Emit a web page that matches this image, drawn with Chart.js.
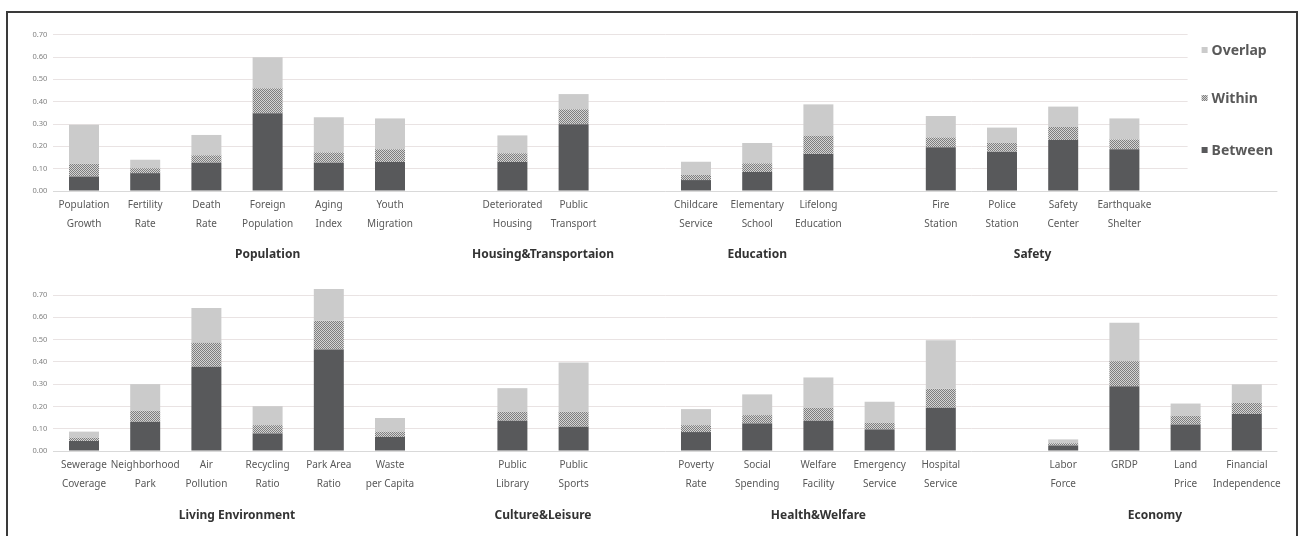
<!DOCTYPE html>
<html><head><meta charset="utf-8">
<script src="https://cdn.jsdelivr.net/npm/chart.js@4/dist/chart.umd.min.js"></script>
<style>
html,body{margin:0;padding:0;background:#fff;}
#wrap{position:relative;width:1300px;height:536px;overflow:hidden;background:#fff;}
#frame{position:absolute;left:6px;top:11px;width:1292px;height:560px;border:2px solid #3a3a3a;box-sizing:border-box;}
#c1{position:absolute;left:0;top:0;}
#c2{position:absolute;left:0;top:270px;}
</style></head><body>
<div id="wrap">
<div id="frame"></div>
<canvas id="c1" width="1300" height="270"></canvas>
<canvas id="c2" width="1300" height="266"></canvas>
</div>
<script>
// ---------- DATA ----------
const topLabels = [
  ['Population','Growth'],['Fertility','Rate'],['Death','Rate'],['Foreign','Population'],['Aging','Index'],['Youth','Migration'],
  '',
  ['Deteriorated','Housing'],['Public','Transport'],
  '',
  ['Childcare','Service'],['Elementary','School'],['Lifelong','Education'],
  '',
  ['Fire','Station'],['Police','Station'],['Safety','Center'],['Earthquake','Shelter'],
  '',''
];
const topBetween = [0.065,0.080,0.127,0.348,0.127,0.130, null, 0.130,0.299, null, 0.049,0.085,0.166, null, 0.196,0.176,0.228,0.187, null,null];
const topWithin  = [0.057,0.022,0.033,0.112,0.046,0.057, null, 0.039,0.067, null, 0.023,0.039,0.082, null, 0.044,0.040,0.059,0.044, null,null];
const topOverlap = [0.175,0.038,0.091,0.139,0.157,0.138, null, 0.080,0.068, null, 0.059,0.091,0.140, null, 0.096,0.068,0.091,0.094, null,null];
const topGroups = ['Population','Housing&Transportaion','Education','Safety'];
const topGroupSpans = [[0,6],[7,8],[10,12],[14,17]];

const bottomLabels = [
  ['Sewerage','Coverage'],['Neighborhood','Park'],['Air','Pollution'],['Recycling','Ratio'],['Park Area','Ratio'],['Waste','per Capita'],
  '',
  ['Public','Library'],['Public','Sports'],
  '',
  ['Poverty','Rate'],['Social','Spending'],['Welfare','Facility'],['Emergency','Service'],['Hospital','Service'],
  '',
  ['Labor','Force'],'GRDP',['Land','Price'],['Financial','Independence']
];
const bottomBetween = [0.045,0.131,0.378,0.079,0.455,0.063, null, 0.136,0.109, null, 0.085,0.124,0.136,0.097,0.194, null, 0.025,0.291,0.119,0.166];
const bottomWithin  = [0.015,0.050,0.107,0.037,0.129,0.024, null, 0.040,0.067, null, 0.031,0.037,0.058,0.030,0.085, null, 0.010,0.112,0.039,0.050];
const bottomOverlap = [0.027,0.119,0.157,0.085,0.143,0.061, null, 0.106,0.221, null, 0.072,0.093,0.136,0.094,0.218, null, 0.017,0.172,0.055,0.083];
const bottomGroups = ['Living Environment','Culture&Leisure','Health&Welfare','Economy'];
const bottomGroupSpans = [[0,5],[7,8],[10,14],[16,19]];

const seriesNames = ['Between','Within','Overlap'];
const yTicks = [0,0.1,0.2,0.3,0.4,0.5,0.6,0.7];

// ---------- STYLE ----------
const FONT = '"Noto Sans", "Open Sans", sans-serif';
const cBetween = '#58595b';
const cOverlap = '#cbcbcb';
function makePattern(){
  const c=document.createElement('canvas'); c.width=4; c.height=4;
  const g=c.getContext('2d');
  g.fillStyle='#d4d4d4'; g.fillRect(0,0,4,4);
  g.fillStyle='#7e7e7e';
  for(let y=0;y<4;y++)for(let x=0;x<4;x++) if((x+y)%2===0) g.fillRect(x,y,1,1);
  return g.createPattern(c,'repeat');
}
const cWithin = makePattern();

const groupPlugin = {
  id:'groupLabels',
  afterDraw(chart, args, opts){
    const ctx=chart.ctx, xs=chart.scales.x;
    ctx.save();
    ctx.font='bold 12px '+FONT;
    ctx.fillStyle='#333333';
    ctx.textAlign='center'; ctx.textBaseline='middle';
    opts.groups.forEach((g,i)=>{
      const s=opts.spans[i];
      const x=(xs.getPixelForValue(s[0])+xs.getPixelForValue(s[1]))/2;
      ctx.fillText(g,x,opts.y);
    });
    ctx.restore();
  }
};

const legendPlugin = {
  id:'boxLegend',
  beforeDatasetsDraw(chart, args, opts){
    if(!opts.show) return;
    const ctx=chart.ctx, ca=chart.chartArea, xs=chart.scales.x;
    const x0 = xs.getPixelForValue(18)+2;
    ctx.save();
    ctx.fillStyle='#ffffff';
    ctx.fillRect(x0, ca.top-4, ca.right-x0+4, ca.bottom-ca.top-1);
    ctx.restore();
  },
  afterDraw(chart, args, opts){
    if(!opts.show) return;
    const ctx=chart.ctx, xs=chart.scales.x;
    const x0 = xs.getPixelForValue(18)+16;
    const items=[[seriesNames[2],cOverlap,51],[seriesNames[1],cWithin,99],[seriesNames[0],cBetween,151]];
    ctx.save();
    ctx.font='bold 14px '+FONT;
    ctx.textBaseline='middle'; ctx.textAlign='left';
    items.forEach(it=>{
      ctx.fillStyle=it[1];
      ctx.fillRect(x0, it[2]-4, 6, 6);
      ctx.fillStyle='#595959';
      ctx.fillText(it[0], x0+10, it[2]);
    });
    ctx.restore();
  }
};

function makeChart(id, labels, b, w, o, groups, spans, cfg){
  return new Chart(document.getElementById(id), {
    type:'bar',
    data:{
      labels: labels,
      datasets:[
        {label:seriesNames[0], data:b, backgroundColor:cBetween, clip:false},
        {label:seriesNames[1], data:w, backgroundColor:cWithin, clip:false},
        {label:seriesNames[2], data:o, backgroundColor:cOverlap, clip:false}
      ]
    },
    options:{
      responsive:false, animation:false,
      layout:{padding:{top:cfg.padTop, right:22.6, left:0, bottom:0}},
      datasets:{bar:{barPercentage:0.49, categoryPercentage:1, borderWidth:0}},
      plugins:{
        legend:{display:false}, tooltip:{enabled:false},
        groupLabels:{groups:groups, spans:spans, y:cfg.groupY},
        boxLegend:{show:cfg.legend}
      },
      scales:{
        x:{
          stacked:true,
          grid:{display:false, drawTicks:false},
          border:{display:false},
          ticks:{autoSkip:false, maxRotation:0, minRotation:0, padding:4.5,
                 color:'#595959', font:{family:FONT, size:10, lineHeight:1.9}},
          afterFit(s){ s.height = cfg.xHeight; }
        },
        y:{
          stacked:true, min:0, max:0.7,
          afterBuildTicks(s){ s.ticks = yTicks.map(v=>({value:v})); },
          grid:{drawTicks:false, color:(c)=> c.tick && c.tick.value===0 ? '#d9d9d9' : '#e9e3e3', lineWidth:1},
          border:{display:false},
          ticks:{padding:6, color:'#808080', font:{family:FONT, size:7.5},
                 callback:(v)=>Number(v).toFixed(2)},
          afterFit(s){ s.width = 53.4; }
        }
      }
    },
    plugins:[groupPlugin, legendPlugin]
  });
}

makeChart('c1', topLabels, topBetween, topWithin, topOverlap, topGroups, topGroupSpans,
  {padTop:34.7, xHeight:79, groupY:255, legend:true});
makeChart('c2', bottomLabels, bottomBetween, bottomWithin, bottomOverlap, bottomGroups, bottomGroupSpans,
  {padTop:25, xHeight:85, groupY:246, legend:false});
</script>
</body></html>
